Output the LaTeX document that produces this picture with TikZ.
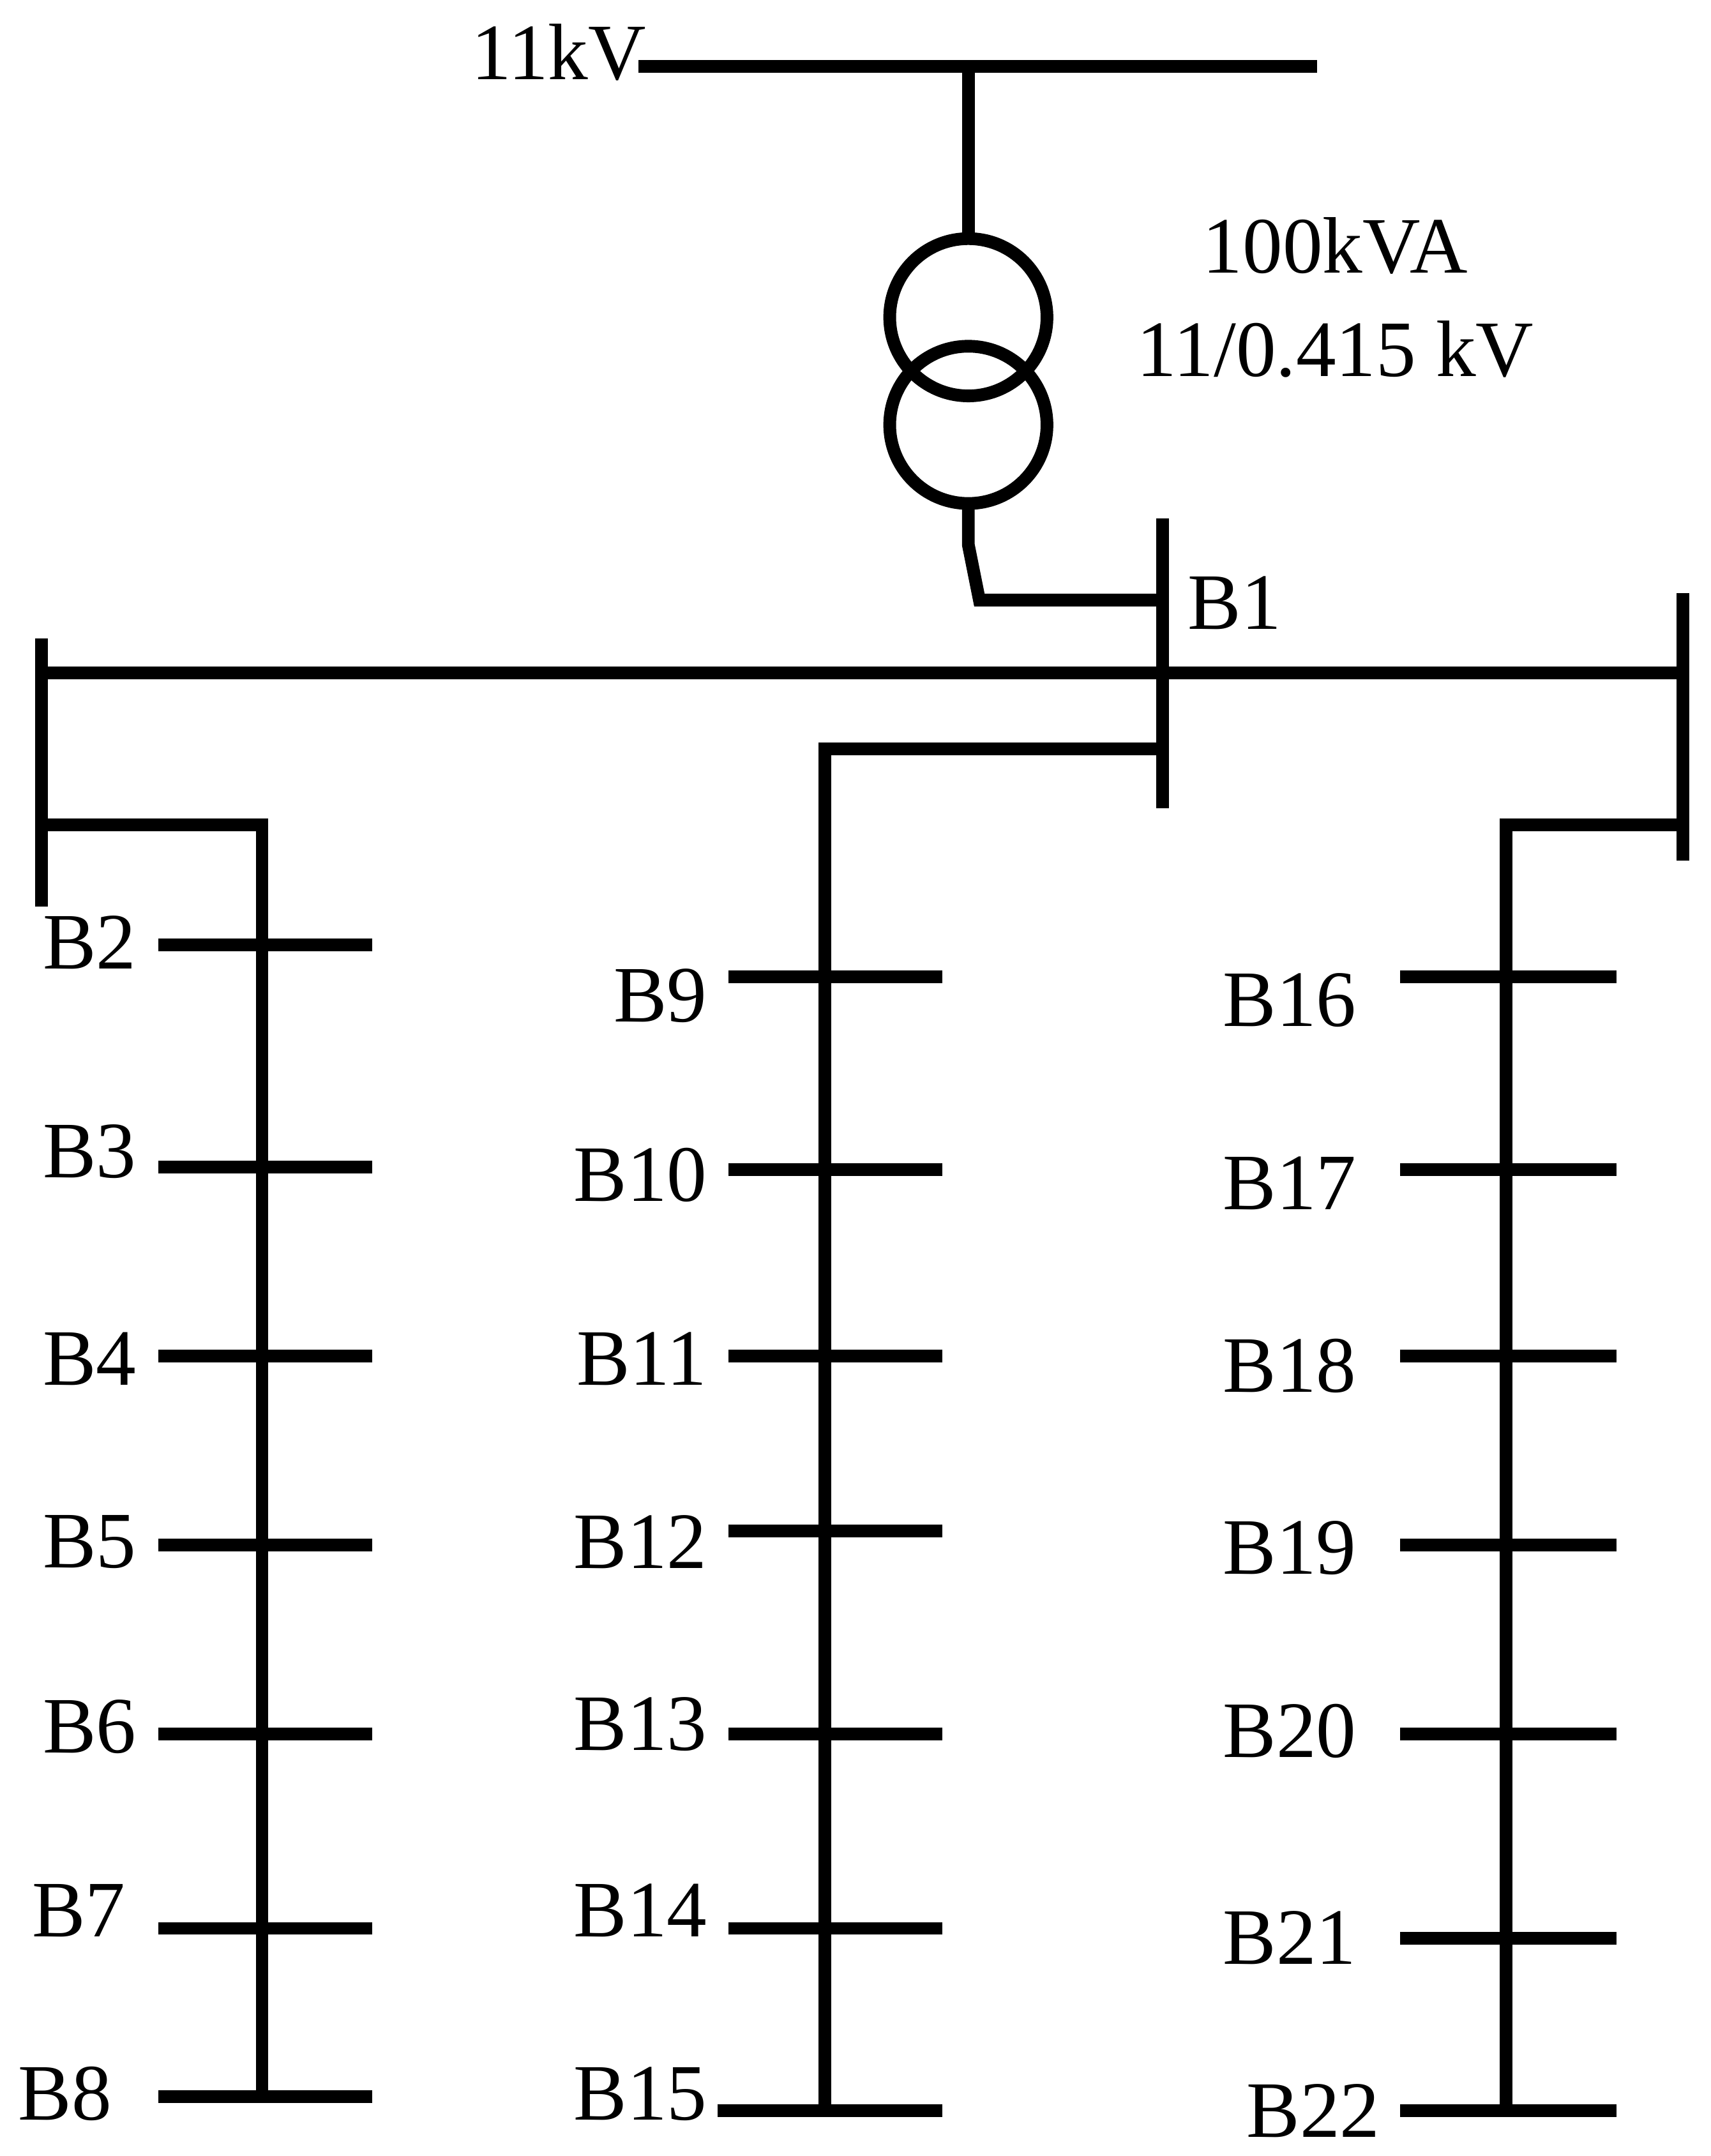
\documentclass[tikz,border=0pt]{standalone}
\usepackage{fontspec}
\setmainfont{Liberation Serif}
\begin{document}
\begin{tikzpicture}[x=0.5pt,y=-0.5pt,
  w/.style={line width=4.6pt},
  lab/.style={font=\fontsize{29}{34}\selectfont,inner sep=0pt}]
\useasboundingbox (0,0) rectangle (1240,1563);
% top
\coordinate (ta) at (463,48); \coordinate (tb) at (955,48); \coordinate (tm) at (702,48);
\draw[w] (ta) -- (tb);
\node[lab] (l11) at (405,38) {11kV};
\coordinate (c1t) at (702,173);
\draw[w] (tm) -- (c1t);
\node[w,draw,circle,minimum size=57pt,inner sep=0pt] (t1) at (702,230) {};
\node[w,draw,circle,minimum size=57pt,inner sep=0pt] (t2) at (702,308) {};
\node[lab] (lk) at (968,178) {100kVA};
\node[lab] (lv) at (968,253) {11/0.415 kV};
\coordinate (c2a) at (702,366); \coordinate (c2b) at (702,395); \coordinate (c2c) at (710,435); \coordinate (c2d) at (843,435);
\draw[w] (c2a) -- (c2b) -- (c2c) -- (c2d);
% B1
\coordinate (b1a) at (843,376); \coordinate (b1b) at (843,586);
\draw[w] (b1a) -- (b1b);
\node[lab] (lb1) at (895,437) {B1};
\coordinate (ha) at (30,488); \coordinate (hb) at (1220,488);
\draw[w] (ha) -- (hb);
\coordinate (la) at (30,463); \coordinate (lb) at (30,657);
\coordinate (ra) at (1220,430); \coordinate (rb) at (1220,624);
\draw[w] (la) -- (lb); \draw[w] (ra) -- (rb);
% feeders
\coordinate (f1a) at (30,598); \coordinate (f1b) at (190,598); \coordinate (f1c) at (190,1520);
\draw[w] (f1a) -- (f1b) -- (f1c);
\coordinate (f2a) at (843,543); \coordinate (f2b) at (598,543); \coordinate (f2c) at (598,1530);
\draw[w] (f2a) -- (f2b) -- (f2c);
\coordinate (f3a) at (1220,598); \coordinate (f3b) at (1092,598); \coordinate (f3c) at (1092,1530);
\draw[w] (f3a) -- (f3b) -- (f3c);
% left buses
\foreach \n/\y/\ly/\lx in {2/685/683/65,3/846/835/65,4/983/985/65,5/1120/1118/65,6/1257/1252/65,7/1398/1385/57,8/1520/1518/47}{
  \coordinate (s\n a) at (115,\y); \coordinate (s\n b) at (270,\y);
  \draw[w] (s\n a) -- (s\n b);
  \node[lab] (lB\n) at (\lx,\ly) {B\n};
}
% middle buses
\foreach \n/\y/\ly/\xa in {9/708/722/528,10/848/852/528,11/983/985/528,12/1110/1118/528,13/1257/1250/528,14/1398/1385/528,15/1530/1518/520}{
  \coordinate (s\n a) at (\xa,\y); \coordinate (s\n b) at (683,\y);
  \draw[w] (s\n a) -- (s\n b);
  \node[lab,anchor=east] (lB\n) at (513,\ly) {B\n};
}
% right buses
\foreach \n/\y/\ly/\xa in {16/708/725/1015,17/848/858/1015,18/983/990/1015,19/1120/1122/1015,20/1257/1255/1015,21/1405/1405/1015,22/1530/1530/1015}{
  \coordinate (s\n a) at (\xa,\y); \coordinate (s\n b) at (1172,\y);
  \draw[w] (s\n a) -- (s\n b);
}
\foreach \n/\ly/\lx in {16/725/935,17/858/935,18/990/935,19/1122/935,20/1255/935,21/1405/935,22/1530/952}{
  \node[lab] (lB\n) at (\lx,\ly) {B\n};
}
\end{tikzpicture}
\end{document}
